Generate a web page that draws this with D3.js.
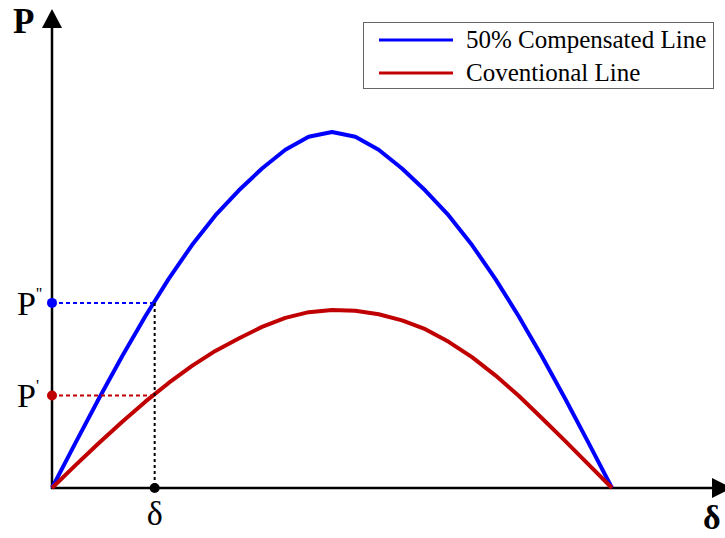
<!DOCTYPE html>
<html>
<head>
<meta charset="utf-8">
<script src="https://cdn.jsdelivr.net/npm/d3@7"></script>
<style>
  html, body { margin: 0; padding: 0; background: #fff; }
  svg { display: block; }
</style>
</head>
<body>
<svg id="chart" width="725" height="538" font-family="'Liberation Serif', 'Times New Roman', Times, serif"></svg>
<script>
// Power angle δ in degrees, sampled every 7.5°
const deltaDeg = [0, 7.5, 15, 22.5, 30, 37.5, 45, 52.5, 60, 67.5, 75, 82.5, 90,
                  97.5, 105, 112.5, 120, 127.5, 135, 142.5, 150, 157.5, 165, 172.5, 180];

// Transferred power (p.u.) for each line
const compensatedP = [0, 0.252, 0.50, 0.739, 0.965, 1.175, 1.365, 1.531, 1.671, 1.795, 1.90, 1.973, 2.0,
                      1.973, 1.90, 1.795, 1.671, 1.531, 1.365, 1.175, 0.965, 0.739, 0.50, 0.252, 0];
const conventionalP = [0, 0.127, 0.251, 0.371, 0.485, 0.59, 0.686, 0.77, 0.84, 0.905, 0.956, 0.988, 1.0,
                       0.996, 0.976, 0.942, 0.892, 0.821, 0.735, 0.633, 0.518, 0.392, 0.263, 0.131, 0];

const seriesNames = ["50% Compensated Line", "Coventional Line"];
const seriesColors = ["#0000ff", "#c00000"];

// Operating point marked on the curves
const deltaOp = 33;
const pCompOp = 1.04;
const pConvOp = 0.52;

const svg = d3.select("#chart");
const serif = "'Liberation Serif', 'Times New Roman', Times, serif";

const x = d3.scaleLinear().domain([0, 180]).range([52, 612]);
const y = d3.scaleLinear().domain([0, 2]).range([488, 132]);

const x0 = x(0), y0 = y(0);

// Axes with arrowheads
const axisColor = "#000";
svg.append("line").attr("x1", x0).attr("y1", y0 + 1).attr("x2", x0).attr("y2", 28)
  .attr("stroke", axisColor).attr("stroke-width", 2.5);
svg.append("path").attr("d", d3.line()([[x0 - 10, 28], [x0 + 10, 28], [x0, 9]]) + "Z")
  .attr("fill", axisColor);

svg.append("line").attr("x1", x0 - 1).attr("y1", y0).attr("x2", 713).attr("y2", y0)
  .attr("stroke", axisColor).attr("stroke-width", 2.5);
svg.append("path").attr("d", d3.line()([[712, y0 - 10], [712, y0 + 10], [732, y0]]) + "Z")
  .attr("fill", axisColor);

// Axis titles
svg.append("text").attr("x", 13).attr("y", 33).attr("font-family", serif)
  .attr("font-size", 35).attr("font-weight", "bold").text("P");
svg.append("text").attr("x", 703).attr("y", 529).attr("font-family", serif)
  .attr("font-size", 34).attr("font-weight", "bold").text("δ");

// Curves
const line = d3.line()
  .x((d, i) => x(deltaDeg[i]))
  .y(d => y(d));

[compensatedP, conventionalP].forEach((vals, i) => {
  svg.append("path")
    .datum(vals)
    .attr("d", line)
    .attr("fill", "none")
    .attr("stroke", seriesColors[i])
    .attr("stroke-width", 4)
    .attr("stroke-linejoin", "round");
});

// Guide lines to the operating point
svg.append("line").attr("x1", x0).attr("x2", x(deltaOp)).attr("y1", y(pCompOp)).attr("y2", y(pCompOp))
  .attr("stroke", seriesColors[0]).attr("stroke-width", 2).attr("stroke-dasharray", "4,3");
svg.append("line").attr("x1", x0).attr("x2", x(deltaOp)).attr("y1", y(pConvOp)).attr("y2", y(pConvOp))
  .attr("stroke", seriesColors[1]).attr("stroke-width", 2).attr("stroke-dasharray", "4,3");
svg.append("line").attr("x1", x(deltaOp)).attr("x2", x(deltaOp)).attr("y1", y(pCompOp)).attr("y2", y0)
  .attr("stroke", "#000").attr("stroke-width", 2).attr("stroke-dasharray", "3,3");

svg.append("circle").attr("cx", x0).attr("cy", y(pCompOp)).attr("r", 5).attr("fill", seriesColors[0]);
svg.append("circle").attr("cx", x0).attr("cy", y(pConvOp)).attr("r", 5).attr("fill", seriesColors[1]);
svg.append("circle").attr("cx", x(deltaOp)).attr("cy", y0).attr("r", 5).attr("fill", "#000");

// Point labels
const pLab2 = svg.append("text").attr("x", 17).attr("y", y(pCompOp) + 12)
  .attr("font-family", serif).attr("font-size", 34);
pLab2.append("tspan").text("P");
pLab2.append("tspan").attr("font-size", 17).attr("dy", -16).text("''");

const pLab1 = svg.append("text").attr("x", 17).attr("y", y(pConvOp) + 12)
  .attr("font-family", serif).attr("font-size", 34);
pLab1.append("tspan").text("P");
pLab1.append("tspan").attr("font-size", 17).attr("dy", -16).text("'");

svg.append("text").attr("x", x(deltaOp)).attr("y", 525).attr("font-family", serif)
  .attr("font-size", 34).attr("text-anchor", "middle").text("δ");

// Legend
const legend = svg.append("g");
legend.append("rect").attr("x", 363.5).attr("y", 22.5).attr("width", 350).attr("height", 66)
  .attr("fill", "#fff").attr("stroke", "#666").attr("stroke-width", 1);
seriesNames.forEach((name, i) => {
  const ly = 40 + i * 33;
  legend.append("line").attr("x1", 379).attr("x2", 453).attr("y1", ly).attr("y2", ly)
    .attr("stroke", seriesColors[i]).attr("stroke-width", 3);
  legend.append("text").attr("x", 466).attr("y", ly + 8).attr("font-family", serif)
    .attr("font-size", 25).text(name);
});
</script>
</body>
</html>
